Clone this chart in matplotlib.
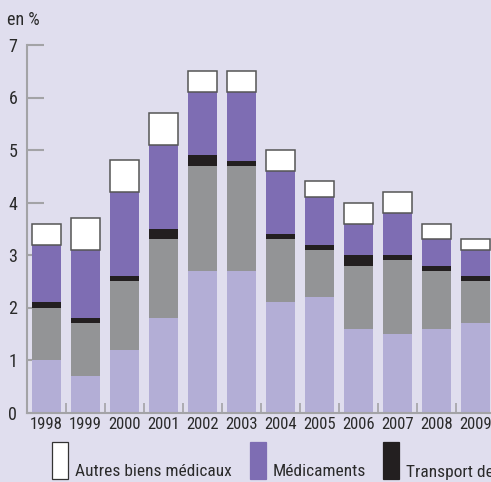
import matplotlib
matplotlib.use("Agg")
import matplotlib.pyplot as plt
import numpy as np
from matplotlib.patches import Rectangle

plt.rcParams["font.family"] = ["Roboto Condensed", "DejaVu Sans"]

# --- data (en %) ---------------------------------------------------------
years = ["1998", "1999", "2000", "2001", "2002", "2003",
         "2004", "2005", "2006", "2007", "2008", "2009"]
lavender = [1.0, 0.7, 1.2, 1.8, 2.7, 2.7, 2.1, 2.2, 1.6, 1.5, 1.6, 1.7]
grey     = [1.0, 1.0, 1.3, 1.5, 2.0, 2.0, 1.2, 0.9, 1.2, 1.4, 1.1, 0.8]
transport = [0.1, 0.1, 0.1, 0.2, 0.2, 0.1, 0.1, 0.1, 0.2, 0.1, 0.1, 0.1]
medicaments = [1.1, 1.3, 1.6, 1.6, 1.2, 1.3, 1.2, 0.9, 0.6, 0.8, 0.5, 0.5]
autres = [0.4, 0.6, 0.6, 0.6, 0.4, 0.4, 0.4, 0.3, 0.4, 0.4, 0.3, 0.2]

legend_labels = ["Autres biens médicaux", "Médicaments", "Transport de"]

BG = "#E0DEEE"
C_LAV = "#B3AED6"
C_GREY = "#939496"
C_BLACK = "#231F20"
C_PURPLE = "#7E6DB3"
C_AXIS = "#A3A3A6"
C_TEXT = "#2A2A2A"

W, H = 491, 482
fig = plt.figure(figsize=(W / 100, H / 100), dpi=100, facecolor=BG)
ax = fig.add_axes([27 / W, 1 - 412.5 / H, 1 - 27 / W, 367.5 / H], facecolor=BG)

x = np.arange(len(years))
bw = 0.73
bottom = np.zeros(len(years))
for vals, col in [(lavender, C_LAV), (grey, C_GREY), (transport, C_BLACK),
                  (medicaments, C_PURPLE)]:
    ax.bar(x, vals, bw, bottom=bottom, color=col, linewidth=0, zorder=2)
    bottom += np.array(vals)
ax.bar(x, autres, bw, bottom=bottom, color="white", edgecolor="#555555",
       linewidth=1.1, zorder=2)

ax.set_xlim(-0.5, -0.5 + (W - 27) / 39)
ax.set_ylim(0, 7)

for s in ["top", "right"]:
    ax.spines[s].set_visible(False)
for s in ["left", "bottom"]:
    ax.spines[s].set_color(C_AXIS)
    ax.spines[s].set_linewidth(1.5)

ax.set_yticks(range(8))
ax.tick_params(axis="y", direction="in", length=12, width=1.5, color=C_AXIS,
               pad=7, labelsize=13, labelcolor=C_TEXT)
ax.set_xticks(x)
ax.set_xticklabels(years)
ax.tick_params(axis="x", length=0, pad=3, labelsize=12, labelcolor=C_TEXT)
ax.set_xticks(x[:-1] + 0.5, minor=True)
ax.tick_params(axis="x", which="minor", direction="in", length=7, width=1.2,
               color=C_AXIS)

fig.text(7 / W, 1 - 20 / H, "en %", fontsize=13, color=C_TEXT, va="center")

# legend
items = [("white", legend_labels[0], 52), (C_PURPLE, legend_labels[1], 250),
         (C_BLACK, legend_labels[2], 383)]
for col, lab, px in items:
    fig.patches.append(Rectangle((px / W, 1 - 479 / H), 16 / W, 37 / H,
                                 transform=fig.transFigure, facecolor=col,
                                 edgecolor="#333333" if col == "white" else col,
                                 linewidth=0.9))
    fig.text((px + 23) / W, 1 - 472 / H, lab, fontsize=12.5, color=C_TEXT,
             va="center")

fig.savefig("out.png", dpi=100, facecolor=BG)
